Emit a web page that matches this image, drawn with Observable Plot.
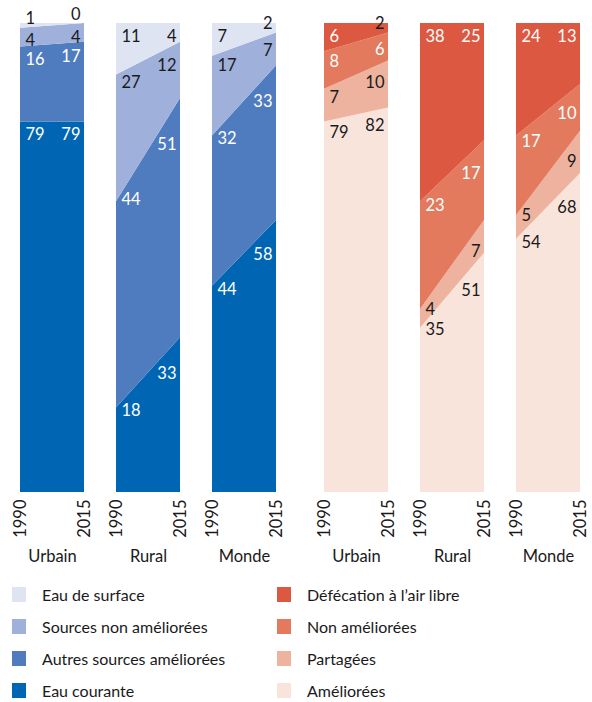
<!DOCTYPE html>
<html>
<head>
<meta charset="utf-8">
<script src="https://cdn.jsdelivr.net/npm/d3@7"></script>
<script src="https://cdn.jsdelivr.net/npm/@observablehq/plot@0.6"></script>
<style>
  body { margin: 0; background: white; font-family: Lato, "Noto Sans", sans-serif; color: #1a1a1a; }
  #charts { display: flex; width: 592px; }
  #legend { display: grid; grid-template-columns: 265px 300px; padding: 8px 0 0 12px; }
  .item { display: flex; align-items: center; height: 32px; font-size: 16px; }
  .sw { width: 14px; height: 15px; margin-right: 16px; flex: none; }
</style>
</head>
<body>
<div id="charts"></div>
<div id="legend"></div>
<script>
const places = ["Urbain", "Rural", "Monde"];
const years = [1990, 2015];
// order of values: Urbain 1990, Urbain 2015, Rural 1990, Rural 2015, Monde 1990, Monde 2015
const eauCourante = [79, 79, 18, 33, 44, 58];
const autresSourcesAmeliorees = [16, 17, 44, 51, 32, 33];
const sourcesNonAmeliorees = [4, 4, 27, 12, 17, 7];
const eauDeSurface = [1, 0, 11, 4, 7, 2];

const ameliorees = [79, 82, 35, 51, 54, 68];
const partagees = [7, 10, 4, 7, 5, 9];
const nonAmeliorees = [8, 6, 23, 17, 17, 10];
const defecationAirLibre = [6, 2, 38, 25, 24, 13];

// categories from bottom to top of the stack
const waterCats = ["Eau courante", "Autres sources améliorées", "Sources non améliorées", "Eau de surface"];
const waterColors = ["#0066b3", "#4f7bbf", "#9fb0db", "#dfe4f2"];
const waterWhiteText = [true, true, false, false];
const sanCats = ["Améliorées", "Partagées", "Non améliorées", "Défécation à l’air libre"];
const sanColors = ["#f9e4dc", "#edb39f", "#e37a5e", "#dc5840"];
const sanWhiteText = [false, false, true, true];

function build(cats, colors, series, whiteText, width, marginLeft, marginRight) {
  const rows = [];
  const labels = [];
  places.forEach((p, pi) => {
    let cum = [0, 0];
    cats.forEach((c, ci) => {
      const v = [series[ci][2 * pi], series[ci][2 * pi + 1]];
      const lo = [cum[0], cum[1]];
      const hi = [cum[0] + v[0], cum[1] + v[1]];
      years.forEach((y, yi) => rows.push({place: p, cat: c, year: y, lo: lo[yi], hi: hi[yi]}));
      cum = hi;
      const top = ci === cats.length - 1;
      years.forEach((y, yi) => {
        const val = v[yi];
        const outside = top && val <= 2;
        let pos;
        if (outside) pos = lo[yi];
        else if (yi === 0) pos = hi[0] + 0.15 * (hi[1] - hi[0]);
        else {
          const f = String(val).length === 1 ? 0.8 : 0.68;
          pos = hi[0] + f * (hi[1] - hi[0]);
        }
        labels.push({place: p, year: y, pos, text: String(val), outside,
          white: !outside && whiteText[ci], anchor: yi === 0 ? "start" : "end"});
      });
    });
  });
  const marks = [
    Plot.areaY(rows, {x: "year", y1: "lo", y2: "hi", z: "cat", fill: "cat", fx: "place"})
  ];
  for (const anchor of ["start", "end"]) {
    for (const white of [true, false]) {
      for (const outside of [true, false]) {
        marks.push(Plot.text(labels, {
          filter: d => d.anchor === anchor && d.white === white && d.outside === outside,
          x: "year", y: "pos", fx: "place", text: "text",
          textAnchor: anchor, lineAnchor: "middle",
          dx: anchor === "start" ? 5 : -4, dy: outside ? -9 : 13,
          fill: white ? "white" : "#1a1a1a", fontSize: 16.5
        }));
      }
    }
  }
  return Plot.plot({
    width, height: 570,
    marginTop: 23, marginBottom: 78, marginLeft, marginRight,
    style: {fontFamily: "Lato, 'Noto Sans', sans-serif", fontSize: "16.5px", color: "#1a1a1a", background: "white", overflow: "visible"},
    x: {domain: [1990, 2015], ticks: years, tickFormat: d => String(d), tickRotate: -90, tickSize: 0, tickPadding: 7, label: null},
    y: {domain: [0, 100], axis: null},
    fx: {domain: places, paddingInner: 0.3368, paddingOuter: 0, axis: "bottom", tickSize: 0, tickPadding: 58, label: null},
    color: {domain: cats, range: colors},
    marks
  });
}

const charts = document.getElementById("charts");
charts.append(build(waterCats, waterColors, [eauCourante, autresSourcesAmeliorees, sourcesNonAmeliorees, eauDeSurface], waterWhiteText, 300, 19, 24));
charts.append(build(sanCats, sanColors, [ameliorees, partagees, nonAmeliorees, defecationAirLibre], sanWhiteText, 292, 23, 12));

const legend = document.getElementById("legend");
for (let r = 3; r >= 0; r--) {
  for (const [cats, colors] of [[waterCats, waterColors], [sanCats, sanColors]]) {
    const item = document.createElement("div");
    item.className = "item";
    const sw = document.createElement("span");
    sw.className = "sw";
    sw.style.background = colors[r];
    const t = document.createElement("span");
    t.textContent = cats[r];
    item.append(sw, t);
    legend.append(item);
  }
}
</script>
</body>
</html>
